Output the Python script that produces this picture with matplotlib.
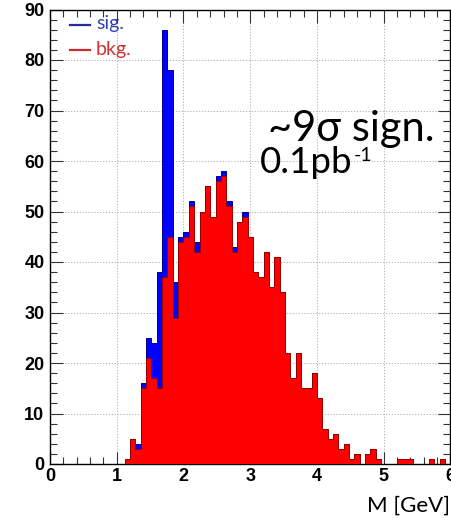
"""
Stacked mass histogram: signal on top of background.
"""

import numpy as np
import matplotlib.pyplot as plt

# 75 bins of 0.08 GeV between 0 and 6 GeV
X_MIN = 0.0
X_MAX = 6.0
N_BINS = 75

# background counts per bin (bin 0 .. 74)
BKG_COUNTS = [
    0, 0, 0, 0, 0, 0, 0, 0, 0, 0,
    0, 0, 0, 0, 1, 5, 3, 15, 21, 17,
    15, 37, 45, 29, 44, 45, 51, 42, 50, 55,
    49, 56, 57, 51, 42, 48, 49, 45, 38, 37,
    42, 35, 41, 34, 22, 17, 22, 15, 15, 18,
    13, 7, 5, 6, 3, 4, 1, 2, 0, 2,
    3, 1, 0, 0, 0, 1, 1, 1, 0, 0,
    0, 1, 0, 1, 0,
]

# signal counts per bin (bin 0 .. 74)
SIG_COUNTS = [
    0, 0, 0, 0, 0, 0, 0, 0, 0, 0,
    0, 0, 0, 0, 0, 0, 1, 1, 4, 7,
    23, 49, 33, 7, 1, 1, 1, 2, 0, 0,
    0, 1, 1, 1, 1, 0, 1, 0, 0, 0,
    0, 0, 0, 0, 0, 0, 0, 0, 0, 0,
    0, 0, 0, 0, 0, 0, 0, 0, 0, 0,
    0, 0, 0, 0, 0, 0, 0, 0, 0, 0,
    0, 0, 0, 0, 0,
]

X_TICKS = [0, 1, 2, 3, 4, 5, 6]
Y_TICKS = [0, 10, 20, 30, 40, 50, 60, 70, 80, 90]

W, H = 452, 518

plt.rcParams["font.family"] = ["Liberation Sans", "DejaVu Sans"]
plt.rcParams["font.weight"] = "bold"
plt.rcParams["font.size"] = 13


def create_histogram() -> None:
    """Draw the signal + background histogram."""
    edges = np.linspace(X_MIN, X_MAX, N_BINS + 1)
    bkg = np.array(BKG_COUNTS, dtype=float)
    total = bkg + np.array(SIG_COUNTS, dtype=float)

    fig = plt.figure(figsize=(W / 100, H / 100), dpi=100)
    ax = fig.add_axes([50 / W, 1 - 464 / H, 400.5 / W, 454.5 / H])

    ax.grid(True, color="#a8a8a8", linestyle=(0, (1.5, 2)), linewidth=0.6)
    ax.set_axisbelow(True)

    ax.stairs(total, edges, fill=True, facecolor="#0000ff",
              edgecolor="#000088", linewidth=0.7, zorder=2)
    ax.stairs(bkg, edges, fill=True, facecolor="#ff0000",
              edgecolor="#990000", linewidth=0.7, zorder=3)

    ax.set_xlim(X_MIN, X_MAX)
    ax.set_ylim(0, 90)
    ax.set_xticks(X_TICKS)
    ax.set_yticks(Y_TICKS)
    ax.set_xticks(np.arange(0, 6.01, 0.2), minor=True)
    ax.set_yticks(np.arange(0, 90.1, 2), minor=True)
    ax.tick_params(which="both", direction="in", top=True, right=True,
                   color="#333333", width=0.8)
    ax.tick_params(which="major", length=9)
    ax.tick_params(which="minor", length=5)
    ax.tick_params(axis="x", pad=3)
    ax.tick_params(axis="y", pad=4)
    for spine in ax.spines.values():
        spine.set_linewidth(1.0)

    text_font = ["Lato", "Open Sans", "DejaVu Sans"]

    # legend drawn by hand, as on the slide
    fig.add_artist(plt.Line2D([70 / W, 90 / W], [1 - 25 / H, 1 - 25 / H],
                              color="#2a2aa0", linewidth=1.6))
    fig.add_artist(plt.Line2D([70 / W, 90 / W], [1 - 50 / H, 1 - 50 / H],
                              color="#cc2a2a", linewidth=1.6))
    fig.text(96 / W, 1 - 24 / H, "sig.", color="#3340b0", fontsize=14,
             family=text_font, weight="normal", va="center")
    fig.text(96 / W, 1 - 49 / H, "bkg.", color="#cc3333", fontsize=14,
             family=text_font, weight="normal", va="center")

    fig.text(268 / W, 1 - 141 / H, "~9σ sign.", fontsize=30,
             family=text_font, weight="normal", va="baseline")
    fig.text(260 / W, 1 - 173 / H, "0.1pb", fontsize=26.5,
             family=text_font, weight="normal", va="baseline")
    fig.text(354 / W, 1 - 161 / H, "-1", fontsize=14,
             family=text_font, weight="normal", va="baseline")

    fig.text(450 / W, 1 - 512 / H, "M [GeV]", fontsize=16,
             family=text_font, weight="normal", ha="right", va="baseline")

    fig.savefig("out.png", dpi=100)


if __name__ == "__main__":
    create_histogram()
